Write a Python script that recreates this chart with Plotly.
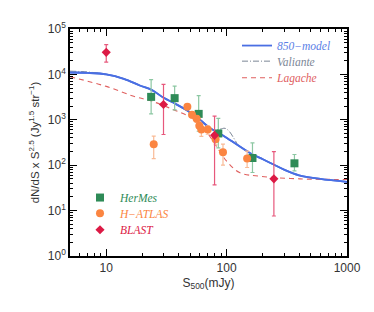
import numpy as np
import plotly.graph_objects as go

# ---- data ----
model850_x = [5, 7, 10, 14, 19, 24, 30, 37, 47, 60, 73, 88, 110, 156, 200, 243, 300, 400, 600, 1000]
model850_y = [11000, 10800, 10000, 8000, 5700, 4500, 3050, 2300, 1600, 1000, 650, 500, 340, 186, 135, 105, 80, 60, 50, 43]

valiante_x = [5, 7, 10, 14, 19, 24, 30, 37, 47, 60, 70, 80, 88, 97, 105, 113, 122]
valiante_y = [11800, 11300, 10000, 8000, 5700, 4500, 3050, 2300, 1600, 1000, 690, 590, 620, 650, 560, 420, 300]

lagache_x = [5, 10, 16.9, 23.6, 37, 53, 68, 82.6, 100, 128, 189, 405, 1000]
lagache_y = [8900, 5440, 3300, 2600, 1630, 1040, 544, 258, 123, 69, 57, 50, 48.5]

hermes_x = [23.6, 37, 58.6, 85.3, 164, 366]
hermes_y = [3200, 3000, 1350, 500, 144, 110]
hermes_hi = [7700, 5500, 3400, 1070, 310, 172]
hermes_lo = [1350, 1660, 560, 240, 69, 75]

hatlas_x = [24.8, 47.2, 51.6, 56.4, 59.3, 61.7, 69.7, 81, 93.3, 148]
hatlas_y = [291, 1930, 1300, 1050, 740, 610, 610, 372, 193, 141]
hatlas_hi = [437, 2200, 1500, 1200, 900, 760, 740, 455, 290, 205]
hatlas_lo = [139, 1700, 1100, 880, 600, 430, 480, 282, 100, 89]

blast_x = [10, 29.9, 79.4, 247]
blast_y = [30600, 2170, 454, 50]
blast_hi = [45400, 6000, 1200, 200]
blast_lo = [18700, 475, 37, 7.6]

y_ticks = [1, 10, 100, 1000, 1e4, 1e5]
y_ticktext = ["10<sup>0</sup>", "10<sup>1</sup>", "10<sup>2</sup>", "10<sup>3</sup>", "10<sup>4</sup>", "10<sup>5</sup>"]
x_ticks = [10, 100, 1000]
x_ticktext = ["10", "100", "1000"]

# ---- colours ----
C_BLUE = "#4a6fe3"
C_BLUE_T = "#5a7ee6"
C_GRAY = "#7b8696"
C_LRED = "#e0605f"
C_GREEN = "#2e8b57"
C_GREEN_E = "#8cc7a2"
C_ORANGE = "#fb8541"
C_ORANGE_E = "#f9bb96"
C_RED = "#dc1a45"
C_RED_E = "#e7587c"

SANS = "Liberation Sans, Arial, sans-serif"
SERIF = "Liberation Serif, DejaVu Serif, serif"

def err(y, hi, lo):
    y = np.array(y, float)
    return np.array(hi, float) - y, y - np.array(lo, float)

def lab(text, color):
    return "<i><span style='color:%s'>%s</span></i>" % (color, text)

fig = go.Figure()

fig.add_trace(go.Scatter(x=model850_x, y=model850_y, mode="lines", line=dict(color=C_BLUE, width=1.8, shape="spline"),
                         name=lab("850\u2212model", C_BLUE_T), legend="legend"))
fig.add_trace(go.Scatter(x=valiante_x, y=valiante_y, mode="lines", line=dict(color=C_GRAY, width=1, dash="6px,2px,1px,2px", shape="spline"),
                         name=lab("Valiante", C_GRAY), legend="legend2"))
fig.add_trace(go.Scatter(x=lagache_x, y=lagache_y, mode="lines", line=dict(color=C_LRED, width=1.1, dash="5px,4px", shape="spline"),
                         name=lab("Lagache", C_LRED), legend="legend3"))

# redraw blue on top of gray
fig.add_trace(go.Scatter(x=model850_x, y=model850_y, mode="lines", line=dict(color=C_BLUE, width=1.8, shape="spline"),
                         showlegend=False, hoverinfo="skip"))

ep, em = err(hermes_y, hermes_hi, hermes_lo)
fig.add_trace(go.Scatter(x=hermes_x, y=hermes_y, mode="markers",
                         marker=dict(symbol="square", size=8, color=C_GREEN),
                         error_y=dict(type="data", array=ep, arrayminus=em, color=C_GREEN_E, thickness=1.2, width=2),
                         name=lab("HerMes", C_GREEN), legend="legend4"))
ep, em = err(hatlas_y, hatlas_hi, hatlas_lo)
fig.add_trace(go.Scatter(x=hatlas_x, y=hatlas_y, mode="markers",
                         marker=dict(symbol="circle", size=8, color=C_ORANGE),
                         error_y=dict(type="data", array=ep, arrayminus=em, color=C_ORANGE_E, thickness=1.2, width=2),
                         name=lab("H\u2212ATLAS", C_ORANGE), legend="legend5"))
ep, em = err(blast_y, blast_hi, blast_lo)
fig.add_trace(go.Scatter(x=blast_x, y=blast_y, mode="markers",
                         marker=dict(symbol="diamond", size=7, color=C_RED),
                         error_y=dict(type="data", array=ep, arrayminus=em, color=C_RED_E, thickness=1.2, width=2),
                         name=lab("BLAST", C_RED), legend="legend6"))

axis_common = dict(
    showgrid=False, zeroline=False, showline=True, linecolor="black", linewidth=1.5,
    mirror="allticks", ticks="inside", ticklen=7, tickwidth=1, tickcolor="black",
    minor=dict(ticks="inside", ticklen=3.5, tickcolor="black", dtick="D1", showgrid=False),
    tickfont=dict(family=SANS, size=12, color="#333"),
)

fig.update_xaxes(type="log", range=[np.log10(5), 3], tickvals=x_ticks, ticktext=x_ticktext,
                 title=dict(text="S<sub>500</sub>(mJy)", font=dict(family=SANS, size=12, color="#333"), standoff=4),
                 **axis_common)
fig.update_yaxes(type="log", range=[0, 5], tickvals=y_ticks, ticktext=y_ticktext,
                 title=dict(text="dN/dS x S<sup>2.5</sup> (Jy<sup>1.5</sup> str<sup>\u22121</sup>)", font=dict(family=SANS, size=11.5, color="#333"), standoff=6),
                 **axis_common)

# plot area in window pixels: x 70..347, y 23..256
def px(xp):
    return (xp - 70) / 277.0

def py(yp):
    return 1 - (yp - 23) / 233.0

def leg(xl, ym):
    return dict(x=px(xl), y=py(ym), xanchor="left", yanchor="middle", bgcolor="rgba(0,0,0,0)",
                font=dict(family=SERIF, size=11.5), itemwidth=30)

# page body adds an 8px offset, so the figure is 8px smaller than the window
fig.update_layout(
    width=366, height=304, autosize=False,
    margin=dict(l=62, r=27, t=15, b=56),
    paper_bgcolor="white", plot_bgcolor="white",
    legend=leg(237, 40), legend2=leg(237, 56), legend3=leg(237, 73),
    legend4=leg(80, 196), legend5=leg(80, 212), legend6=leg(80, 229),
    showlegend=True,
)

fig.write_html("out.html")
